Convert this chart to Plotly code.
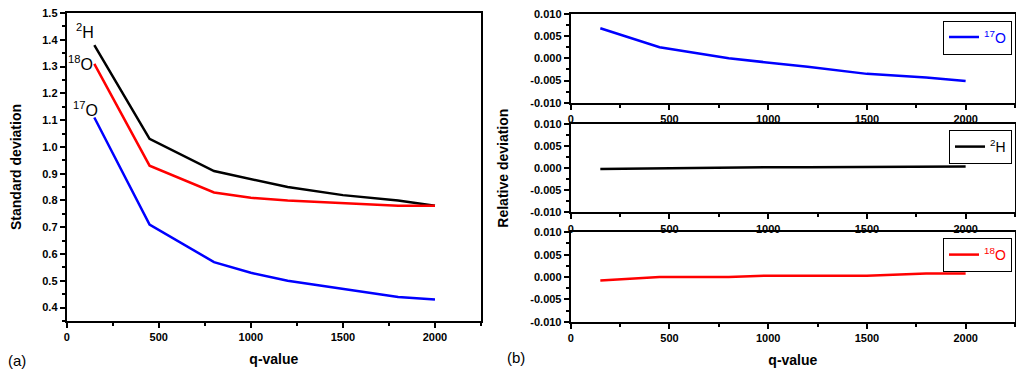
import plotly.graph_objects as go

# ---- data ----
q_values = [150, 450, 800, 1000, 1200, 1500, 1800, 2000]
sd_2H = [1.38, 1.03, 0.91, 0.88, 0.85, 0.82, 0.80, 0.78]
sd_18O = [1.31, 0.93, 0.83, 0.81, 0.80, 0.79, 0.78, 0.78]
sd_17O = [1.11, 0.71, 0.57, 0.53, 0.50, 0.47, 0.44, 0.43]

rd_17O = [0.0068, 0.0025, 0.0000, -0.0009, -0.0019, -0.0035, -0.0043, -0.0051]
rd_2H = [-0.0002, 0.0000, 0.0001, 0.0002, 0.0002, 0.0003, 0.0004, 0.0004]
rd_18O = [-0.0008, 0.0000, 0.0000, 0.0003, 0.0003, 0.0003, 0.0008, 0.0008]

left_ytick_vals = [0.4, 0.5, 0.6, 0.7, 0.8, 0.9, 1.0, 1.1, 1.2, 1.3, 1.4, 1.5]
left_ytick_text = ["0.4", "0.5", "0.6", "0.7", "0.8", "0.9", "1.0", "1.1", "1.2", "1.3", "1.4", "1.5"]
right_ytick_vals = [-0.010, -0.005, 0.0, 0.005, 0.010]
right_ytick_text = ["-0.010", "-0.005", "0.000", "0.005", "0.010"]
x_tick_vals = [0, 500, 1000, 1500, 2000]

BLACK = "#000000"
RED = "#ff0000"
BLUE = "#0000ff"
FONT = "Liberation Sans, Arial, sans-serif"

# page body has an 8px margin; figure sized so it fits the window
OFF = 8
W, H = 1008, 361
def px(x):
    return (x - OFF) / W
def py(y):
    return 1 - (y - OFF) / H

fig = go.Figure()

# left panel
fig.add_trace(go.Scatter(x=q_values, y=sd_2H, mode="lines", line=dict(color=BLACK, width=2.5),
                         xaxis="x", yaxis="y", showlegend=False))
fig.add_trace(go.Scatter(x=q_values, y=sd_18O, mode="lines", line=dict(color=RED, width=2.5),
                         xaxis="x", yaxis="y", showlegend=False))
fig.add_trace(go.Scatter(x=q_values, y=sd_17O, mode="lines", line=dict(color=BLUE, width=2.5),
                         xaxis="x", yaxis="y", showlegend=False))

# right panels
fig.add_trace(go.Scatter(x=q_values, y=rd_17O, mode="lines", line=dict(color=BLUE, width=2.5),
                         xaxis="x2", yaxis="y2", name="<sup>17</sup>O", legend="legend"))
fig.add_trace(go.Scatter(x=q_values, y=rd_2H, mode="lines", line=dict(color=BLACK, width=2.5),
                         xaxis="x3", yaxis="y3", name="<sup>2</sup>H", legend="legend2"))
fig.add_trace(go.Scatter(x=q_values, y=rd_18O, mode="lines", line=dict(color=RED, width=2.5),
                         xaxis="x4", yaxis="y4", name="<sup>18</sup>O", legend="legend3"))

tickfont = dict(family=FONT, size=11, color=BLACK, weight="bold")
titlefont = dict(family=FONT, size=14, color=BLACK, weight="bold")

def xaxis(domain, anchor, title=None):
    d = dict(domain=domain, anchor=anchor, range=[0, 2250], tickvals=x_tick_vals,
             showline=True, linecolor=BLACK, linewidth=2, mirror=True, automargin=False,
             ticks="outside", ticklen=5, tickwidth=2, tickcolor=BLACK,
             ticklabeloverflow="allow",
             minor=dict(ticks="outside", dtick=250, ticklen=3, tickwidth=1.5, tickcolor=BLACK),
             showgrid=False, zeroline=False, tickfont=tickfont)
    if title:
        d["title"] = dict(text=title, font=titlefont, standoff=12)
    return d

def yaxis(domain, anchor, rng, vals, text, minor_dtick, title=None, standoff=8):
    d = dict(domain=domain, anchor=anchor, range=rng, tickvals=vals, ticktext=text,
             showline=True, linecolor=BLACK, linewidth=2, mirror=True, automargin=False,
             ticks="outside", ticklen=5, tickwidth=2, tickcolor=BLACK,
             ticklabeloverflow="allow",
             minor=dict(ticks="outside", dtick=minor_dtick, ticklen=3, tickwidth=1.5, tickcolor=BLACK),
             showgrid=False, zeroline=False, tickfont=tickfont)
    if title:
        d["title"] = dict(text=title, font=titlefont, standoff=standoff)
    return d

RX = [px(570.7), px(1015)]

legend_common = dict(xanchor="right", yanchor="top", bordercolor=BLACK, borderwidth=1,
                     bgcolor="white", itemwidth=30, tracegroupgap=0)

fig.update_layout(
    width=W, height=H,
    margin=dict(l=0, r=0, t=0, b=0, autoexpand=False),
    paper_bgcolor="white", plot_bgcolor="white",
    font=dict(family=FONT, color=BLACK),
    xaxis=xaxis([px(66.7), px(481)], "y", "q-value"),
    yaxis=yaxis([py(321), py(13)], "x", [0.35, 1.5], left_ytick_vals, left_ytick_text, 0.05,
                "Standard deviation", 20),
    xaxis2=xaxis(RX, "y2"),
    yaxis2=yaxis([py(102.7), py(14)], "x2", [-0.010, 0.010], right_ytick_vals, right_ytick_text, 0.0025),
    xaxis3=xaxis(RX, "y3"),
    yaxis3=yaxis([py(212.3), py(124)], "x3", [-0.010, 0.010], right_ytick_vals, right_ytick_text, 0.0025,
                 "Relative deviation", 18),
    xaxis4=xaxis(RX, "y4", "q-value"),
    yaxis4=yaxis([py(321.7), py(232.3)], "x4", [-0.010, 0.010], right_ytick_vals, right_ytick_text, 0.0025),
    legend=dict(legend_common, x=px(1012), y=py(20.5),
                font=dict(family=FONT, size=14, color=BLUE)),
    legend2=dict(legend_common, x=px(1012), y=py(130),
                 font=dict(family=FONT, size=14, color=BLACK)),
    legend3=dict(legend_common, x=px(1012), y=py(238),
                 font=dict(family=FONT, size=14, color=RED)),
)

annfont = dict(family=FONT, size=16, color=BLACK)
def note(x, y, text, font):
    fig.add_annotation(x=px(x), y=py(y), xref="paper", yref="paper", text=text,
                       xanchor="center", yanchor="middle", showarrow=False, font=font)

note(85, 31, "<sup>2</sup>H", annfont)
note(80, 63, "<sup>18</sup>O", annfont)
note(85, 109, "<sup>17</sup>O", annfont)
note(17, 360, "(a)", dict(family=FONT, size=15, color=BLACK))
note(516, 357, "(b)", dict(family=FONT, size=15, color=BLACK))

fig.write_html("out.html")
